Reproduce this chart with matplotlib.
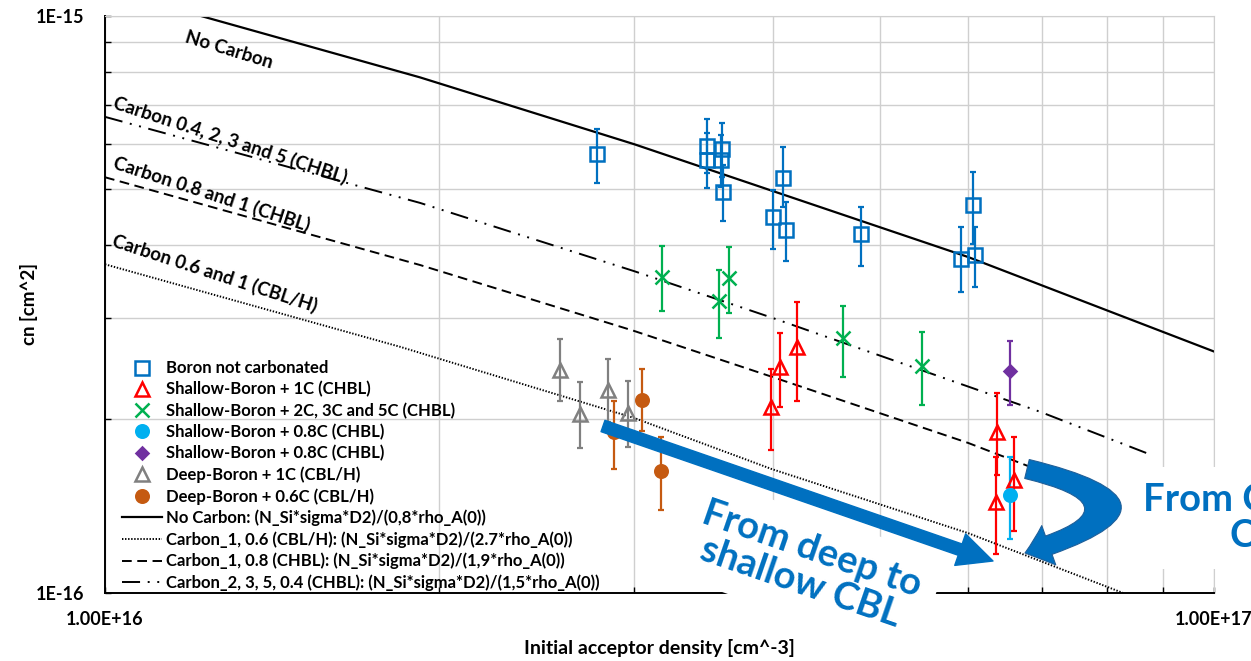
import matplotlib
matplotlib.use('Agg')
import matplotlib.pyplot as plt
import matplotlib.transforms as mtransforms
from matplotlib.patches import FancyArrowPatch
from matplotlib.path import Path
from matplotlib.ticker import NullFormatter

plt.rcParams['font.family'] = ['Lato', 'DejaVu Sans']
plt.rcParams['font.weight'] = 'bold'
plt.rcParams['lines.scale_dashes'] = False

# ---- data ----
# Boron not carbonated
b_x = [2.78e16, 3.49e16, 3.49e16, 3.60e16, 3.59e16, 3.61e16, 4.00e16, 4.09e16, 4.11e16, 4.81e16, 5.91e16, 6.06e16, 6.09e16]
b_y = [5.76e-16, 5.95e-16, 5.62e-16, 5.88e-16, 5.62e-16, 4.95e-16, 4.48e-16, 5.23e-16, 4.25e-16, 4.18e-16, 3.79e-16, 4.70e-16, 3.85e-16]
b_lo = [5.13e-16, 5.34e-16, 5.03e-16, 5.25e-16, 5.05e-16, 4.41e-16, 3.94e-16, 4.66e-16, 3.76e-16, 3.68e-16, 3.32e-16, 4.02e-16, 3.39e-16]
b_hi = [6.36e-16, 6.62e-16, 6.26e-16, 6.52e-16, 6.21e-16, 5.51e-16, 4.99e-16, 5.92e-16, 4.75e-16, 4.66e-16, 4.30e-16, 5.36e-16, 4.30e-16]

# Shallow-Boron + 1C (CHBL)
r_x = [3.99e16, 4.06e16, 4.21e16, 6.37e16, 6.36e16, 6.60e16]
r_y = [2.10e-16, 2.46e-16, 2.67e-16, 1.90e-16, 1.44e-16, 1.57e-16]
r_lo = [1.77e-16, 2.10e-16, 2.15e-16, 1.60e-16, 1.17e-16, 1.28e-16]
r_hi = [2.44e-16, 2.82e-16, 3.19e-16, 2.22e-16, 1.72e-16, 1.86e-16]

# Shallow-Boron + 2C, 3C and 5C (CHBL)
g_x = [3.18e16, 3.58e16, 3.65e16, 4.63e16, 5.45e16]
g_y = [3.52e-16, 3.20e-16, 3.51e-16, 2.76e-16, 2.47e-16]
g_lo = [3.08e-16, 2.77e-16, 3.05e-16, 2.37e-16, 2.12e-16]
g_hi = [3.99e-16, 3.62e-16, 3.97e-16, 3.14e-16, 2.83e-16]

# Shallow-Boron + 0.8C (CHBL), two series
c_x = [6.55e16]
c_y = [1.48e-16]
c_lo = [1.24e-16]
c_hi = [1.72e-16]
p_x = [6.55e16]
p_y = [2.42e-16]
p_lo = [2.12e-16]
p_hi = [2.73e-16]

# Deep-Boron + 1C (CBL/H)
d_x = [2.57e16, 2.68e16, 2.84e16, 2.96e16]
d_y = [2.43e-16, 2.04e-16, 2.25e-16, 2.05e-16]
d_lo = [2.15e-16, 1.78e-16, 1.98e-16, 1.79e-16]
d_hi = [2.75e-16, 2.32e-16, 2.54e-16, 2.33e-16]

# Deep-Boron + 0.6C (CBL/H)
o_x = [2.88e16, 3.05e16, 3.17e16]
o_y = [1.90e-16, 2.16e-16, 1.63e-16]
o_lo = [1.64e-16, 1.91e-16, 1.39e-16]
o_hi = [2.15e-16, 2.44e-16, 1.86e-16]

# model curves
nc_x = [1.218e16, 1.923e16, 3.00e16, 6.00e16, 1.00e17]
nc_y = [1.00e-15, 7.82e-16, 5.99e-16, 3.82e-16, 2.62e-16]
c06_x = [1.00e16, 1.845e16, 3.00e16, 3.99e16, 6.00e16, 8.28e16]
c06_y = [3.71e-16, 2.67e-16, 2.01e-16, 1.64e-16, 1.27e-16, 1.00e-16]
c08_x = [1.00e16, 1.923e16, 2.99e16, 3.99e16, 6.00e16, 8.23e16]
c08_y = [5.25e-16, 3.70e-16, 2.85e-16, 2.37e-16, 1.82e-16, 1.44e-16]
c04_x = [1.00e16, 1.923e16, 3.00e16, 3.99e16, 6.97e16, 8.81e16]
c04_y = [6.68e-16, 4.74e-16, 3.61e-16, 3.00e-16, 2.06e-16, 1.73e-16]

xtick_vals = [1e16, 1e17]
xtick_labels = ['1.00E+16', '1.00E+17']
ytick_vals = [1e-16, 1e-15]
ytick_labels = ['1E-16', '1E-15']

W, H = 1251, 661
fig = plt.figure(figsize=(W / 100, H / 100), dpi=100)
ax = fig.add_axes([105 / W, (H - 593) / H, 1109 / W, 577.3 / H])
ax.set_xscale('log')
ax.set_yscale('log')
ax.set_xlim(1e16, 1e17)
ax.set_ylim(1e-16, 1e-15)

ax.set_axisbelow(True)
ax.grid(True, which='both', color='#cfcfcf', lw=1.0)
for s in ['top', 'right']:
    ax.spines[s].set_color('#cfcfcf')
for s in ['left', 'bottom']:
    ax.spines[s].set_color('black')
    ax.spines[s].set_linewidth(1.4)

ax.set_xticks(xtick_vals, labels=xtick_labels)
ax.set_yticks(ytick_vals, labels=ytick_labels)
ax.xaxis.set_minor_formatter(NullFormatter())
ax.yaxis.set_minor_formatter(NullFormatter())
ax.tick_params(which='both', direction='in', length=4, width=1, color='black',
               top=False, right=False, labelsize=13)
ax.tick_params(axis='y', pad=15)
ax.tick_params(axis='x', pad=13)

ax.set_ylabel('cn [cm^2]', fontsize=13.5, fontweight='bold')
ax.set_xlabel('Initial acceptor density [cm^-3]', fontsize=14, fontweight='bold')
ax.yaxis.set_label_coords(-0.06, 0.5)
ax.xaxis.set_label_coords(0.5, -0.079)

# curves
ax.plot(nc_x, nc_y, color='black', lw=1.6, label='No Carbon: (N_Si*sigma*D2)/(0,8*rho_A(0))')
ax.plot(c06_x, c06_y, color='black', lw=1.4, ls=(0, (1.0, 1.2)),
        label='Carbon_1, 0.6 (CBL/H): (N_Si*sigma*D2)/(2.7*rho_A(0))')
ax.plot(c08_x, c08_y, color='black', lw=1.4, ls=(0, (7, 4)),
        label='Carbon_1, 0.8 (CHBL): (N_Si*sigma*D2)/(1,9*rho_A(0))')
ax.plot(c04_x, c04_y, color='black', lw=1.4, ls=(0, (13, 5.5, 1.4, 5.5, 1.4, 5.5)),
        label='Carbon_2, 3, 5, 0.4 (CHBL): (N_Si*sigma*D2)/(1,5*rho_A(0))')


def series(x, y, lo, hi, color, marker, ms, label, filled):
    err = [[a - b for a, b in zip(y, lo)], [b - a for a, b in zip(y, hi)]]
    ax.errorbar(x, y, yerr=err, fmt='none', ecolor=color, elinewidth=1.6,
                capsize=2.4, capthick=1.6, zorder=3)
    ax.plot(x, y, ls='none', marker=marker, ms=ms, mew=1.8, mec=color,
            mfc=color if filled else 'none', label=label, zorder=4)


series(b_x, b_y, b_lo, b_hi, '#0070C0', 's', 9.5, 'Boron not carbonated', False)
series(r_x, r_y, r_lo, r_hi, '#FF0000', '^', 10, 'Shallow-Boron + 1C (CHBL)', False)
series(g_x, g_y, g_lo, g_hi, '#00B050', 'x', 9.5, 'Shallow-Boron + 2C, 3C and 5C (CHBL)', False)
series(c_x, c_y, c_lo, c_hi, '#00B0F0', 'o', 9, 'Shallow-Boron + 0.8C (CHBL)', True)
series(p_x, p_y, p_lo, p_hi, '#7030A0', 'D', 6.5, 'Shallow-Boron + 0.8C (CHBL)', True)
series(d_x, d_y, d_lo, d_hi, '#808080', '^', 10, 'Deep-Boron + 1C (CBL/H)', False)
series(o_x, o_y, o_lo, o_hi, '#C55A11', 'o', 9, 'Deep-Boron + 0.6C (CBL/H)', True)

handles, labels = ax.get_legend_handles_labels()
order = [4, 5, 6, 7, 8, 9, 10, 0, 1, 2, 3]
ax.legend([handles[i] for i in order], [labels[i] for i in order],
          loc='upper left', bbox_to_anchor=(0.015, 0.403), frameon=False,
          fontsize=12, handlelength=2.4, handletextpad=0.25, labelspacing=0.3,
          borderaxespad=0, borderpad=0, numpoints=1)

# curve labels
lbl = dict(fontsize=13.5, fontweight='bold', rotation_mode='anchor', ha='center', va='center')
ax.text(1.294e16, 8.72e-16, 'No Carbon', rotation=-17, **lbl)
ax.text(1.296e16, 6.09e-16, 'Carbon 0.4, 2, 3 and 5 (CHBL)', rotation=-18, **lbl)
ax.text(1.249e16, 4.91e-16, 'Carbon 0.8 and 1 (CHBL)', rotation=-18, **lbl)
ax.text(1.257e16, 3.58e-16, 'Carbon 0.6 and 1 (CBL/H)', rotation=-18, **lbl)

# annotations (image pixel coordinates, y down)
px = mtransforms.Affine2D().scale(1, -1).translate(0, H)
blue = '#0070C0'
fig.text(806, 566, 'From deep to\nshallow CBL', transform=px, color=blue,
         fontsize=27.5, fontweight='bold', rotation=-19, rotation_mode='anchor',
         ha='center', va='center', multialignment='center', linespacing=1.05,
         bbox=dict(boxstyle='square,pad=0.45', fc='white', ec='none'), zorder=6)
fig.text(1265, 518, 'From CHBL to\nCBL', transform=px, color=blue,
         fontsize=27.5, fontweight='bold', ha='center', va='center',
         multialignment='center', linespacing=1.1,
         bbox=dict(boxstyle='square,pad=0.4', fc='white', ec='none'), zorder=6)

arr = FancyArrowPatch(posA=(603, 426), posB=(993, 561), transform=px,
                      arrowstyle='simple,head_length=25,head_width=24,tail_width=8.6',
                      mutation_scale=1, shrinkA=0, shrinkB=0, color=blue, zorder=7)
fig.add_artist(arr)

cpath = Path([(1027, 469), (1180, 506), (1025, 553)], [Path.MOVETO, Path.CURVE3, Path.CURVE3])
carr = FancyArrowPatch(path=cpath, transform=px,
                       arrowstyle='simple,head_length=18,head_width=30,tail_width=14',
                       mutation_scale=1, fc=blue, ec='#1f5f99', lw=0.8, zorder=7)
fig.add_artist(carr)

fig.savefig('out.png', dpi=100)
